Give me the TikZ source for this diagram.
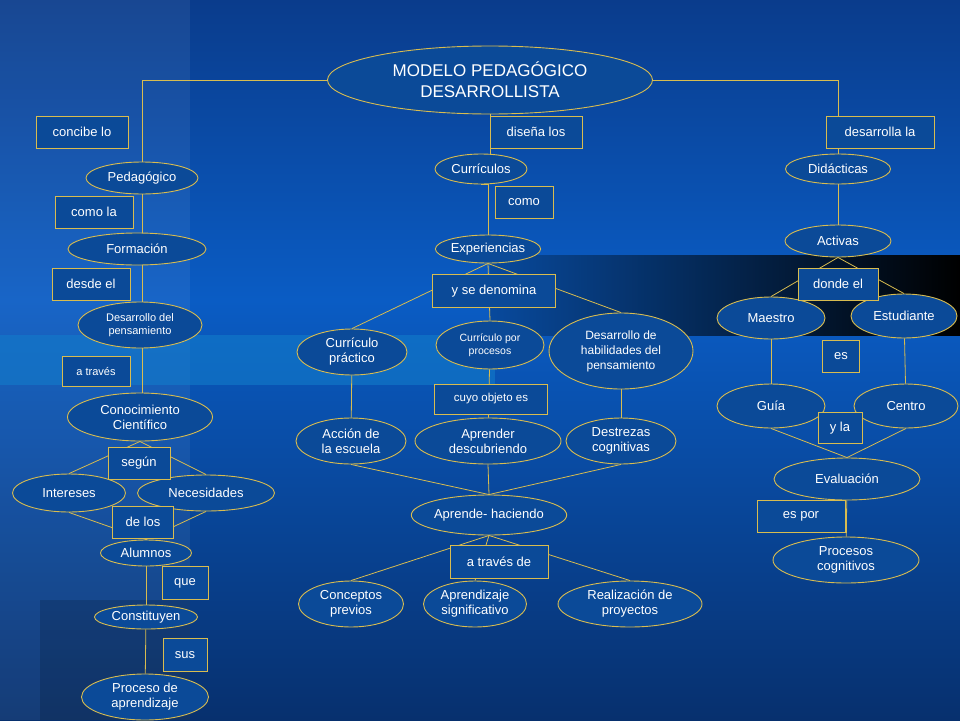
\documentclass[tikz,border=0pt]{standalone}
\usepackage{fontspec}
\setmainfont{Liberation Sans}
\usetikzlibrary{shapes.geometric}
\definecolor{gold}{HTML}{D8BC50}
\definecolor{nfill}{HTML}{0B4A98}
\definecolor{bgtop}{HTML}{0A3C8C}
\definecolor{bgmid}{HTML}{0A5CC4}
\definecolor{bgbot}{HTML}{07306E}
\begin{document}
\begin{tikzpicture}[x=1pt,y=-1pt,
  el/.style={ellipse,draw=gold,line width=0.9pt,fill=nfill,text=white,inner sep=0pt,align=center,font=\fontsize{13}{15}\selectfont},
  bx/.style={rectangle,draw=gold,line width=0.9pt,fill=nfill,text=white,inner sep=0pt,align=center,font=\fontsize{13}{15}\selectfont},
  ln/.style={draw=gold,line width=0.8pt}]
% background
\useasboundingbox (0,0) rectangle (960,720);
\shade[top color=bgtop,bottom color=bgmid] (0,0) rectangle (960,300);
\shade[top color=bgmid,bottom color=bgbot] (0,300) rectangle (960,720);
\fill[white,opacity=0.06] (0,0) rectangle (190,720);
\shade[left color=bgmid!80!black,right color=black] (490,255) rectangle (960,335);
\fill[cyan!60!blue,opacity=0.6] (0,335) rectangle (495,385);
\fill[black,opacity=0.15] (40,600) rectangle (190,720);
% nodes
\node[el,minimum width=325,minimum height=68,font=\fontsize{17}{21}\selectfont] (title) at (490,80) {MODELO PEDAGÓGICO\\DESARROLLISTA};
\coordinate (tl) at (142,80);
\coordinate (tr) at (838,80);
% left
\node[el,minimum width=112,minimum height=32] (ped) at (142,178) {Pedagógico};
\node[el,minimum width=138,minimum height=32] (for) at (137,249) {Formación};
\node[el,minimum width=124,minimum height=46,font=\fontsize{11}{13}\selectfont] (des) at (140,325) {Desarrollo del\\pensamiento};
\node[el,minimum width=145,minimum height=48] (con) at (140,417) {Conocimiento\\Científico};
\node[el,minimum width=113,minimum height=38] (int) at (69,493) {Intereses};
\node[el,minimum width=137,minimum height=36] (nec) at (206,493) {Necesidades};
\node[el,minimum width=91,minimum height=26] (alu) at (146,553) {Alumnos};
\node[el,minimum width=103,minimum height=24] (cns) at (146,617) {Constituyen};
\node[el,minimum width=127,minimum height=46] (pro) at (145,697) {Proceso de\\aprendizaje};
% middle
\node[el,minimum width=92,minimum height=30] (cur) at (481,169) {Currículos};
\node[el,minimum width=105,minimum height=28] (exp) at (488,249) {Experiencias};
\node[el,minimum width=110,minimum height=46] (cpr) at (352,352) {Currículo\\práctico};
\node[el,minimum width=108,minimum height=48,font=\fontsize{10.5}{13}\selectfont] (cpp) at (490,345) {Currículo por\\procesos};
\node[el,minimum width=144,minimum height=76,font=\fontsize{12}{15}\selectfont] (dhp) at (621,351) {Desarrollo de\\habilidades del\\pensamiento};
\node[el,minimum width=110,minimum height=46] (acc) at (351,441) {Acción de\\la escuela};
\node[el,minimum width=146,minimum height=46] (apd) at (488,441) {Aprender\\descubriendo};
\node[el,minimum width=110,minimum height=46] (dco) at (621,441) {Destrezas\\cognitivas};
\node[el,minimum width=148,minimum height=40] (aha) at (489,515) {Aprende- haciendo};
\node[el,minimum width=105,minimum height=46] (cpv) at (351,604) {Conceptos\\previos};
\node[el,minimum width=103,minimum height=46] (asg) at (475,604) {Aprendizaje\\significativo};
\node[el,minimum width=144,minimum height=46] (rpy) at (630,604) {Realización de\\proyectos};
% right
\node[el,minimum width=105,minimum height=30] (did) at (838,169) {Didácticas};
\node[el,minimum width=106,minimum height=32] (act) at (838,241) {Activas};
\node[el,minimum width=108,minimum height=42] (mae) at (771,318) {Maestro};
\node[el,minimum width=106,minimum height=44] (est) at (904,316) {Estudiante};
\node[el,minimum width=108,minimum height=44] (gui) at (771,406) {Guía};
\node[el,minimum width=104,minimum height=44] (cen) at (906,406) {Centro};
\node[el,minimum width=146,minimum height=42] (eva) at (847,479) {Evaluación};
\node[el,minimum width=146,minimum height=46] (pcg) at (846,560) {Procesos\\cognitivos};
% connectors
\draw[ln] (title.west) -- (tl) -- (ped.north);
\draw[ln] (title.east) -- (tr) -- (did.north);
\draw[ln] (title.south) -- (title.south|-cur.north);
\draw[ln] (ped.south) -- (ped.south|-for.north);
\draw[ln] (ped.south|-for.south) -- (ped.south|-des.north);
\draw[ln] (ped.south|-des.south) -- (ped.south|-con.north);
\draw[ln] (con.south) -- (int.north); \draw[ln] (con.south) -- (nec.north);
\draw[ln] (int.south) -- (alu.north); \draw[ln] (nec.south) -- (alu.north);
\draw[ln] (alu) -- (cns); \draw[ln] (cns) -- (pro);
\draw[ln] (cur.south) -- (cur.south-|exp.north) -- (exp.north);
\draw[ln] (exp.south) -- (cpr.north); \draw[ln] (exp.south) -- (cpp.north); \draw[ln] (exp.south) -- (dhp.north);
\draw[ln] (cpr) -- (acc); \draw[ln] (cpp) -- (apd); \draw[ln] (dhp) -- (dco);
\draw[ln] (acc.south) -- (aha.north); \draw[ln] (apd.south) -- (aha.north); \draw[ln] (dco.south) -- (aha.north);
\draw[ln] (aha.south) -- (cpv.north); \draw[ln] (aha.south) -- (asg.north); \draw[ln] (aha.south) -- (rpy.north);
\draw[ln] (did) -- (act);
\draw[ln] (act.south) -- (mae.north); \draw[ln] (act.south) -- (est.north);
\draw[ln] (mae) -- (gui); \draw[ln] (est) -- (cen);
\draw[ln] (gui.south) -- (eva.north); \draw[ln] (cen.south) -- (eva.north);
\draw[ln] (eva) -- (pcg);
% boxes
\node[bx,minimum width=92,minimum height=32] (b1) at (82,132) {concibe lo};
\node[bx,minimum width=92,minimum height=32] (b2) at (536,132) {diseña los};
\node[bx,minimum width=108,minimum height=32] (b3) at (880,132) {desarrolla la};
\node[bx,minimum width=78,minimum height=32] (b4) at (94,212) {como la};
\node[bx,minimum width=78,minimum height=32] (b5) at (91,284) {desde el};
\node[bx,minimum width=68,minimum height=30,font=\fontsize{11}{13}\selectfont] (b6) at (96,371) {a través};
\node[bx,minimum width=62,minimum height=32] (b7) at (139,463) {según};
\node[bx,minimum width=61,minimum height=32] (b8) at (143,522) {de los};
\node[bx,minimum width=46,minimum height=33] (b9) at (185,583) {que};
\node[bx,minimum width=44,minimum height=33] (b10) at (185,655) {sus};
\node[bx,minimum width=58,minimum height=32] (b11) at (524,202) {como};
\node[bx,minimum width=123,minimum height=33] (b12) at (494,291) {y se denomina};
\node[bx,minimum width=113,minimum height=30,font=\fontsize{11.5}{13}\selectfont] (b13) at (491,399) {cuyo objeto es};
\node[bx,minimum width=98,minimum height=33] (b14) at (499,562) {a través de};
\node[bx,minimum width=80,minimum height=32] (b15) at (838,284) {donde el};
\node[bx,minimum width=37,minimum height=32] (b16) at (841,356) {es};
\node[bx,minimum width=44,minimum height=31] (b17) at (840,428) {y la};
\node[bx,minimum width=88,minimum height=32] (b18) at (801,516) {es por};
\end{tikzpicture}
\end{document}
